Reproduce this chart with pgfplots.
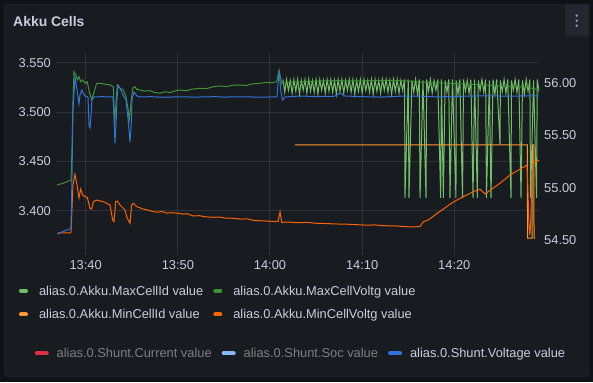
\documentclass[border=0pt]{standalone}
\usepackage{fontspec}
\setmainfont{Liberation Sans}
\usepackage{pgfplots}
\pgfplotsset{compat=1.18}
\definecolor{outerbg}{HTML}{111217}
\definecolor{panelbg}{HTML}{181B1F}
\definecolor{panelborder}{HTML}{2A2D33}
\definecolor{gridc}{HTML}{2E3137}
\definecolor{txt}{HTML}{CCCCDC}
\definecolor{txtdim}{HTML}{7D7F87}
\definecolor{lgreen}{HTML}{73BF69}
\definecolor{dgreen}{HTML}{3E9434}
\definecolor{lorange}{HTML}{FF9830}
\definecolor{dorange}{HTML}{FA6400}
\definecolor{sred}{HTML}{E02F44}
\definecolor{lblue}{HTML}{8AB8FF}
\definecolor{sblue}{HTML}{3274D9}
\definecolor{btn}{HTML}{24272D}
\definecolor{dots}{HTML}{9DA1AA}
\begin{document}
\begin{tikzpicture}[x=1bp,y=1bp]
\fill[outerbg] (0,0) rectangle (593,382);
\draw[panelborder, fill=panelbg, rounded corners=3bp] (4.5,5.5) rectangle (589,377.5);
\fill[btn, rounded corners=2bp] (565,345.5) rectangle (589,377.5);
\fill[dots] (576.7,366.3) circle (1.3);
\fill[dots] (576.7,361.3) circle (1.3);
\fill[dots] (576.7,356.3) circle (1.3);
\node[anchor=base west, inner sep=0pt, text=txt, font=\bfseries\fontsize{14}{16}\selectfont] at (13,355.3) {Akku Cells};

\begin{axis}[
  at={(56bp,127bp)}, anchor=south west, width=483bp, height=202bp, scale only axis,
  xmin=36.78, xmax=89.19, ymin=3.3551, ymax=3.5598,
  axis line style={draw=none}, major tick length=0pt,
  xtick={40,50,60,70,80}, xticklabels={13:40,13:50,14:00,14:10,14:20},
  ytick={3.4,3.45,3.5,3.55},
  grid=major, major grid style={gridc, line width=1bp},
  tick label style={font=\fontsize{12.9}{15}\selectfont, text=txt, inner sep=0pt},
  xticklabel style={anchor=north, yshift=-5.4bp},
  yticklabel style={anchor=east, xshift=-5bp, /pgf/number format/.cd, fixed, fixed zerofill, precision=3, assume math mode=true},
  legend columns=2,
  legend cell align=left,
  legend style={at={(axis description cs:-0.0766,-0.153)}, anchor=north west, draw=none, fill=none,
    inner sep=0pt, outer sep=0pt, row sep=11.5bp, font=\fontsize{12.9}{15}\selectfont, text=txt,
    nodes={inner sep=0pt, text height=9.4bp, text depth=2.7bp},
    /tikz/every odd column/.append style={column sep=11bp},
    /tikz/every even column/.append style={column sep=10bp}},
  legend image code/.code={\draw[line width=4bp, line cap=round] (0bp,1.2bp) -- (5bp,1.2bp);},
]
% MaxCellId
\addplot[lgreen, line width=1bp] coordinates {
(61.4,3.533)(61.6,3.520)(61.8,3.533)(62.0,3.522)(62.2,3.532)(62.4,3.519)(62.6,3.533)(62.8,3.521)
(63.0,3.533)(63.2,3.518)(63.4,3.532)(63.6,3.522)(63.8,3.533)(64.0,3.519)(64.2,3.533)(64.4,3.521)
(64.6,3.532)(64.8,3.520)(65.0,3.533)(65.2,3.518)(65.4,3.533)(65.6,3.522)(65.8,3.532)(66.0,3.519)
(66.2,3.533)(66.4,3.521)(66.6,3.533)(66.8,3.520)(67.0,3.532)(67.2,3.518)(67.4,3.533)(67.6,3.521)
(67.8,3.533)(68.0,3.519)(68.2,3.532)(68.4,3.522)(68.6,3.533)(68.8,3.520)(69.0,3.533)(69.2,3.518)
(69.4,3.532)(69.6,3.521)(69.8,3.533)(70.0,3.519)(70.2,3.533)(70.4,3.522)(70.6,3.532)(70.8,3.520)
(71.0,3.533)(71.2,3.518)(71.4,3.533)(71.6,3.521)(71.8,3.532)(72.0,3.519)(72.2,3.533)(72.4,3.522)
(72.6,3.533)(72.8,3.520)(73.0,3.532)(73.2,3.518)(73.4,3.533)(73.6,3.521)(73.8,3.533)(74.0,3.519)
(74.2,3.532)(74.4,3.522)(74.6,3.533)(74.65,3.413)(75.0,3.533)(75.08,3.413)(75.4,3.532)(75.6,3.520)
(75.8,3.533)(76.0,3.518)(76.2,3.533)(76.28,3.413)(76.6,3.532)(76.93,3.413)(77.0,3.533)(77.2,3.521)
(77.4,3.533)(77.6,3.519)(77.8,3.532)(78.0,3.522)(78.2,3.533)(78.52,3.413)(78.6,3.533)(78.81,3.413)
(79.0,3.532)(79.2,3.520)(79.4,3.533)(79.53,3.413)(79.8,3.533)(80.18,3.413)(80.2,3.532)(80.4,3.518)
(80.6,3.533)(80.89,3.413)(81.0,3.533)(81.2,3.521)(81.4,3.532)(81.6,3.519)(81.8,3.533)(82.03,3.413)
(82.2,3.533)(82.50,3.413)(82.6,3.532)(82.8,3.522)(83.0,3.533)(83.2,3.520)(83.4,3.533)(83.49,3.413)
(83.8,3.532)(83.98,3.413)(84.2,3.533)(84.4,3.518)(84.6,3.533)(84.96,3.467)(85.0,3.532)(85.2,3.521)
(85.4,3.533)(85.6,3.519)(85.8,3.533)(86.15,3.413)(86.2,3.532)(86.4,3.522)(86.6,3.533)(86.8,3.520)
(87.0,3.533)(87.24,3.413)(87.4,3.532)(87.6,3.518)(87.8,3.533)(88.0,3.521)(88.2,3.533)(88.27,3.413)
(88.6,3.532)(88.92,3.413)(89.0,3.533)(89.2,3.520)
};
\addlegendentry{alias.0.Akku.MaxCellId value}
% MaxCellVoltg
\addplot[dgreen, line width=1bp] coordinates {
(36.89,3.4260)(37.65,3.4281)(38.41,3.4311)(38.51,3.4615)(38.62,3.5100)(38.73,3.5409)(38.95,3.5375)
(39.09,3.5325)(39.27,3.5358)(39.46,3.5307)(39.67,3.5325)(39.92,3.5291)(40.17,3.5307)(40.39,3.5206)
(40.65,3.5122)(40.90,3.5200)(41.19,3.5291)(41.55,3.5291)(42.10,3.5282)(42.64,3.5274)(43.00,3.5257)
(43.13,3.4869)(43.29,3.5100)(43.43,3.5274)(43.72,3.5241)(44.08,3.5223)(44.37,3.5155)(44.62,3.5021)
(44.73,3.4902)(44.92,3.5100)(45.10,3.5241)(45.35,3.5257)(45.53,3.5230)(45.89,3.5223)(46.40,3.5212)
(46.90,3.5218)(47.40,3.5200)(48.06,3.5190)(48.60,3.5205)(49.20,3.5198)(49.70,3.5214)(50.23,3.5223)
(50.90,3.5215)(51.60,3.5232)(52.40,3.5241)(53.10,3.5236)(53.80,3.5255)(54.57,3.5264)(55.30,3.5258)
(56.00,3.5272)(56.75,3.5274)(57.40,3.5268)(58.10,3.5285)(58.92,3.5291)(59.60,3.5300)(60.20,3.5296)
(60.73,3.5307)(60.98,3.5426)(61.27,3.5291)(62.40,3.5305)(63.61,3.5307)(65.40,3.5314)(67.24,3.5318)
(69.00,3.5315)(70.85,3.5318)(72.70,3.5320)(74.47,3.5318)(76.10,3.5305)(77.72,3.5297)(79.50,3.5290)
(81.35,3.5284)(83.20,3.5275)(84.96,3.5264)(86.77,3.5257)(88.20,3.5245)(88.94,3.5230)(89.19,3.5232)
};
\addlegendentry{alias.0.Akku.MaxCellVoltg value}
% MinCellId
\addplot[lorange, line width=1bp] coordinates {
(62.71,3.4666)(87.92,3.4666)(87.95,3.3723)(88.43,3.3723)(88.47,3.4666)(88.62,3.4666)(88.65,3.3723)(88.76,3.3723)
};
\addlegendentry{alias.0.Akku.MinCellId value}
% MinCellVoltg
\addplot[dorange, line width=1bp] coordinates {
(36.99,3.3774)(37.60,3.3776)(38.30,3.3774)(38.41,3.3784)(38.51,3.4007)(38.62,3.4260)(38.84,3.4369)
(39.09,3.4243)(39.27,3.4129)(39.46,3.4220)(39.67,3.4159)(39.92,3.4142)(40.17,3.4136)(40.47,3.4024)
(40.65,3.4017)(40.83,3.4091)(41.19,3.4108)(41.91,3.4091)(42.64,3.4058)(42.93,3.3906)(43.07,3.3889)
(43.26,3.4091)(43.43,3.4098)(43.72,3.4058)(44.27,3.4007)(44.45,3.3939)(44.62,3.3906)(44.81,3.3872)
(44.99,3.4058)(45.17,3.4075)(45.53,3.4041)(46.25,3.4017)(46.80,3.4005)(47.34,3.3990)(47.80,3.3985)
(48.30,3.3992)(48.79,3.3975)(49.30,3.3980)(50.05,3.3974)(50.60,3.3965)(51.00,3.3970)(51.68,3.3946)
(52.30,3.3950)(53.00,3.3938)(53.85,3.3933)(54.50,3.3936)(55.20,3.3925)(56.02,3.3923)(56.80,3.3915)
(57.50,3.3918)(58.19,3.3902)(59.00,3.3898)(60.00,3.3893)(60.87,3.3891)(61.09,3.3990)(61.27,3.3882)
(62.00,3.3885)(63.00,3.3878)(64.00,3.3882)(65.07,3.3872)(66.00,3.3870)(67.00,3.3866)(68.68,3.3862)
(69.50,3.3858)(70.50,3.3853)(71.30,3.3856)(72.30,3.3848)(73.50,3.3846)(74.50,3.3840)(75.55,3.3835)
(76.28,3.3840)(76.64,3.3889)(77.18,3.3906)(78.09,3.3970)(79.18,3.4041)(79.89,3.4088)(80.98,3.4142)
(82.06,3.4193)(82.79,3.4218)(83.33,3.4169)(83.87,3.4205)(84.96,3.4278)(86.05,3.4362)(87.13,3.4420)
(87.89,3.4463)(87.99,3.4200)(88.10,3.3850)(88.20,3.3750)(88.30,3.3920)(88.42,3.4300)(88.54,3.4483)
(88.76,3.4494)(89.19,3.4511)
};
\addlegendentry{alias.0.Akku.MinCellVoltg value}
\end{axis}

\begin{axis}[
  at={(56bp,127bp)}, anchor=south west, width=483bp, height=202bp, scale only axis,
  xmin=36.78, xmax=89.19, ymin=54.356, ymax=56.290,
  axis x line=none, axis y line*=right, axis line style={draw=none}, major tick length=0pt,
  xtick=\empty, ytick={54.5,55,55.5,56},
  tick label style={font=\fontsize{12.9}{15}\selectfont, text=txt, inner sep=0pt},
  yticklabel style={anchor=west, xshift=5bp, /pgf/number format/.cd, fixed, fixed zerofill, precision=2, assume math mode=true},
  legend columns=3,
  legend cell align=left,
  legend style={at={(axis description cs:-0.0441,-0.4629)}, anchor=north west, draw=none, fill=none,
    inner sep=0pt, outer sep=0pt, font=\fontsize{12.9}{15}\selectfont, text=txt,
    nodes={inner sep=0pt, text height=9.4bp, text depth=2.7bp},
    /tikz/every odd column/.append style={column sep=8bp},
    /tikz/every even column/.append style={column sep=10bp}},
  legend image code/.code={\draw[line width=4bp, line cap=round] (0bp,1.2bp) -- (10bp,1.2bp);},
]
\addlegendimage{sred, line width=1bp}
\addlegendentry[text=txtdim]{alias.0.Shunt.Current value}
\addlegendimage{lblue, line width=1bp}
\addlegendentry[text=txtdim]{alias.0.Shunt.Soc value}
% Shunt.Voltage
\addplot[sblue, line width=1bp] coordinates {
(36.89,54.556)(37.65,54.585)(38.30,54.605)(38.41,54.614)(38.51,55.074)(38.62,55.744)(38.84,56.060)
(39.06,55.936)(39.27,55.802)(39.38,55.888)(39.60,55.936)(39.71,55.907)(39.92,55.878)(40.25,55.869)
(40.36,55.601)(40.47,55.572)(40.58,55.696)(40.68,55.840)(40.90,55.869)(41.80,55.872)(42.64,55.869)
(42.96,55.869)(43.07,55.696)(43.18,55.428)(43.29,55.601)(43.40,55.840)(43.51,55.984)(43.72,55.955)
(44.05,55.888)(44.37,55.840)(44.59,55.668)(44.81,55.438)(44.97,55.648)(45.02,55.840)(45.24,55.917)
(45.57,55.878)(45.89,55.869)(47.00,55.872)(48.50,55.866)(50.00,55.870)(52.00,55.868)(54.00,55.872)
(55.00,55.868)(57.00,55.871)(59.00,55.867)(60.76,55.870)(60.98,56.118)(61.19,55.917)(61.36,55.840)
(61.63,55.869)(63.26,55.878)(65.00,55.873)(67.00,55.876)(67.60,55.907)(68.14,55.878)(70.00,55.872)
(72.00,55.868)(74.00,55.876)(76.00,55.878)(78.00,55.870)(80.00,55.874)(82.00,55.878)(84.00,55.880)
(86.00,55.876)(88.00,55.880)(89.19,55.880)
};
\addlegendentry{alias.0.Shunt.Voltage value}
\end{axis}
\pgfresetboundingbox
\path[use as bounding box] (0,0) rectangle (593,382);
\end{tikzpicture}
\end{document}
